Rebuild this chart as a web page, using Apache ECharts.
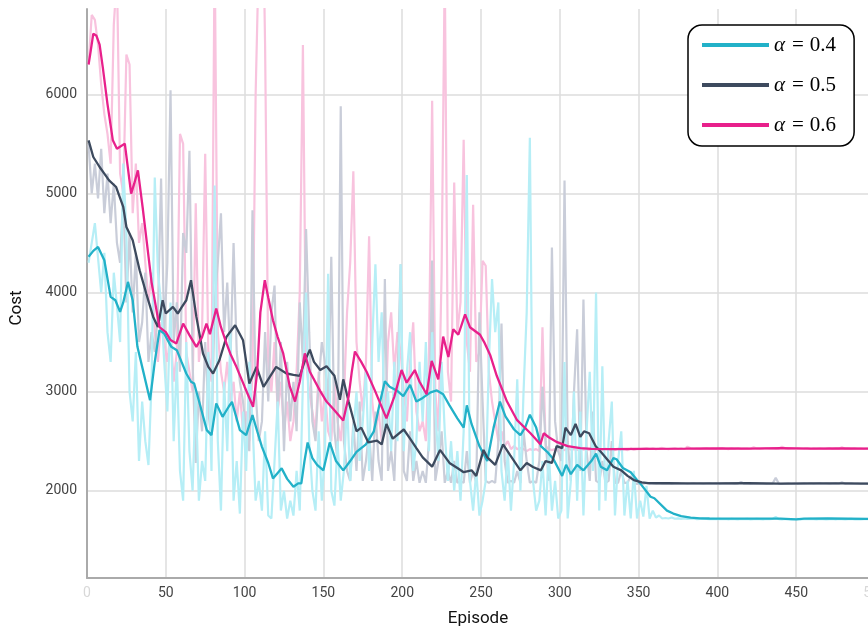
<!DOCTYPE html>
<html><head><meta charset="utf-8">
<script src="https://cdn.jsdelivr.net/npm/echarts@6/dist/echarts.min.js"></script>
<style>html,body{margin:0;padding:0;background:#fff}#c{width:868px;height:628px}</style>
</head><body><div id="c"></div>
<script>
// ---------- data ----------
const seriesNames = ['α = 0.4', 'α = 0.5', 'α = 0.6'];
const xTickValues = [0, 50, 100, 150, 200, 250, 300, 350, 400, 450, 500];
const yTickValues = [2000, 3000, 4000, 5000, 6000];
const rawStep = 2; // raw curves sampled at episodes 1,3,5,...,499

const rawA04 = [
4300,4500,4700,4350,4000,4400,3600,3300,4200,3870,3500,5300,4600,3000,2700,3400,2300,2900,2500,2260,3100,5160,4200,3900,3300,
2800,3900,2500,3300,2200,1900,3500,2400,2000,3000,1900,2300,2100,3400,2200,5080,2500,1800,3100,2400,3600,1900,2300,1770,2800,
2200,3300,2700,1900,2100,1800,2600,1750,1720,2300,2900,1800,2000,1720,1900,1750,2200,1800,3100,4000,2500,2000,1800,2600,1900,
2400,4190,2000,1850,2500,1900,2200,2900,2100,2600,3000,2300,2700,3200,2200,3500,4285,3300,3800,2600,3000,2400,3300,2500,4285,
2400,3200,3600,2200,2500,3300,2700,3500,2400,3600,2800,2300,3300,2600,2100,2500,2000,2400,1900,2600,5185,2100,1800,2200,1750,
1900,2100,3300,4136,3600,3900,2200,1900,2400,1800,2300,3124,2000,3000,3800,5560,2100,1800,1900,2300,1750,2400,1800,2100,1720,
1800,3300,1720,2100,3000,1900,2800,1750,2600,3200,2200,4000,1800,3255,1900,2500,2900,1750,2300,2600,1750,2100,1720,2200,1720,
1900,1740,2050,1720,1800,1730,1750,1720,1725,1720,1730,1718,1722,1716,1720,1715,1718,1720,1714,1716,1718,1715,1713,1716,1714,
1716,1713,1715,1712,1716,1714,1711,1715,1713,1716,1712,1714,1716,1713,1711,1715,1713,1716,1735,1714,1712,1715,1713,1711,1714,
1716,1712,1715,1713,1716,1714,1711,1715,1713,1710,1714,1716,1712,1715,1713,1711,1714,1716,1712,1714,1711,1713,1715,1712,1710];

const rawA05 = [
5500,5000,5300,4950,5450,4800,5200,4700,5100,4500,4300,5000,3900,4600,3800,4400,3500,3700,4200,3300,3600,3400,3800,5150,3600,
4300,6040,3500,3900,3200,4600,4400,5430,3300,2280,3000,2600,3500,2800,2500,3900,4300,4800,3600,4100,3300,4500,3400,3100,2900,
2600,2400,4830,3000,2500,2700,3600,2900,3800,4070,2800,3500,2400,3300,2700,3100,2600,3900,3300,4640,3600,2700,2500,3100,3500,
3300,2900,4360,2600,2300,5880,2500,2200,2100,2700,2200,2900,2100,2300,2600,2100,2800,2300,2100,4136,2200,2400,2100,3100,4285,
2200,2100,2600,2100,2300,2080,2200,2080,2500,4323,2100,2300,2600,2080,2200,2080,2300,2080,2100,2080,2400,2080,2200,2080,3800,
2900,2100,2080,2100,2080,2500,3686,2300,2080,2100,2080,2200,2080,2600,2300,2080,2100,2080,2300,3050,2500,2100,4454,2700,2400,
2300,5130,2500,2100,3000,3630,2200,3930,2400,2100,2800,2100,2080,2300,2080,2100,2500,2080,2080,2200,2080,2080,2150,2080,2070,
2075,2072,2078,2070,2074,2072,2076,2071,2073,2075,2070,2072,2074,2071,2073,2070,2072,2075,2071,2073,2070,2072,2074,2071,2073,
2070,2072,2074,2071,2073,2070,2072,2090,2071,2073,2070,2072,2074,2071,2073,2070,2072,2074,2130,2073,2070,2072,2074,2071,2073,
2070,2072,2074,2071,2073,2070,2072,2074,2071,2073,2070,2072,2074,2071,2085,2070,2072,2074,2071,2073,2070,2072,2074,2071,2073];

const rawA06 = [
6300,6800,6750,6500,6100,5800,5600,5300,6700,7200,5200,5000,6400,6300,4800,5300,4500,4700,4300,3900,4200,3600,3300,3700,3500,
3300,3600,3100,3400,5600,5500,3400,3200,3000,4900,3300,3600,5400,3400,3100,7500,3600,3200,3000,3300,2900,3100,2700,3000,2600,
2800,2500,3200,6000,7400,8500,6500,3300,3000,3500,2800,3100,2600,2900,2500,2700,3200,4000,6496,3300,3000,2800,2600,3200,2700,
3000,2600,2500,3100,2700,2500,2900,3800,4300,5222,3500,3100,2800,3300,4567,2900,2600,2800,2500,2600,3500,3800,3200,3600,3400,
3000,2700,3300,3700,2800,2600,2700,2500,3400,5934,3000,2600,4200,7300,3200,2900,5110,3600,3900,5540,3500,3200,4885,3300,3400,
4320,4270,3200,2900,2700,2500,2600,2450,2500,2420,2450,2420,2430,2420,2400,2420,2410,2420,2400,3650,2450,2420,2410,2420,2400,
2420,2410,2430,2415,2420,2410,2425,2415,2420,2410,2425,2415,2420,2410,2425,2415,2420,2410,2425,2415,2420,2410,2425,2415,2420,
2420,2425,2430,2422,2428,2420,2425,2432,2424,2420,2426,2430,2423,2427,2421,2445,2428,2424,2426,2422,2428,2430,2424,2426,2421,
2426,2430,2424,2420,2427,2425,2431,2423,2426,2428,2424,2440,2427,2423,2426,2429,2424,2427,2422,2426,2445,2428,2423,2426,2424,
2428,2424,2426,2430,2423,2427,2425,2429,2424,2426,2430,2423,2427,2425,2440,2424,2426,2422,2428,2424,2426,2423,2427,2425,2424];

const smoothA04Ep = [1,4,7,11,15,18,21,23,26,29,32,35.5,40,43,46,49,53.5,57,60,63,66,68,72,76,79,82,86,90,92,97,101,105,108,111,115,118,121,123.5,127,131,134,136,138,140,143,146,150,154,158,162.6,167,171,177,182,186,189,192,196.5,200.7,205,209,213,218,222,226,230,235,239,241,244,249,254,258,262,265.5,271,275,278,281,285,288,292,296,301.5,304,307,311,315,320,323,326,330,334,336,340,345,349,351,357.6,360,368,372,377,383,389,395,420,440,450,455,470,500];
const smoothA04 = [4360,4420,4460,4325,3956,3922,3805,3900,4107,3922,3452,3217,2914,3300,3620,3585,3452,3418,3300,3183,3100,3082,2850,2612,2561,2881,2746,2850,2897,2612,2561,2763,2600,2443,2280,2125,2180,2226,2120,2040,2075,2075,2300,2487,2330,2262,2206,2487,2300,2206,2300,2393,2468,2600,2900,3105,3050,3012,2955,3068,2900,2937,2993,3012,2974,2862,2731,2637,2862,2674,2450,2300,2637,2900,2750,2618,2562,2637,2768,2637,2450,2393,2318,2150,2262,2168,2262,2206,2300,2375,2243,2206,2330,2318,2230,2187,2108,2075,1940,1925,1800,1770,1745,1730,1722,1720,1718,1718,1712,1718,1720,1715];

const smoothA05Ep = [1,4,8,11,14,18.5,23,25,29,33.4,37.6,42,45,48,50,54.5,57.6,60,63,66,69.4,73.6,77,80,84,88.5,94,99,103,107.6,112,116,120,126.6,131,135,138,141.4,144,148,152,157,160.5,162.6,166,171,174,178.5,184,187,190,194,201,205,209,213,219,224,230,235,239,244,247,251.6,254,259,264,268.6,275,279,283,288,291,295,298,301.5,303.6,307,310,313,315.4,318.6,322.8,326,330,334,339,343,347,352,356,362,368,380,400,420,440,460,480,500];
const smoothA05 = [5535,5367,5266,5200,5132,5064,4863,4661,4527,4225,3990,3754,3653,3922,3788,3855,3788,3850,3922,4124,3754,3385,3250,3183,3317,3552,3670,3519,3082,3250,3048,3150,3250,3183,3170,3160,3300,3424,3300,3218,3255,3160,2918,3124,2900,2600,2637,2487,2506,2468,2674,2525,2618,2525,2430,2337,2243,2412,2281,2230,2187,2206,2150,2412,2337,2262,2468,2356,2206,2281,2240,2206,2300,2281,2450,2430,2637,2562,2674,2543,2600,2580,2450,2393,2318,2242,2206,2150,2108,2085,2078,2076,2078,2075,2074,2076,2073,2075,2074,2072];

const smoothA06Ep = [1,2,4,6,8,10,13,16.4,19,20.7,24,26,28,30,32.3,35.3,38,41,46,50,53,56.7,61,65,69.4,73,75.8,78,82,85,88.5,91,94.8,100,105.4,108,110,112.8,115,118,121,124.5,128.7,132,135,138.2,141.4,147.8,152,156.3,162.6,166,168,170,174,177.4,182.7,190,195,199.6,202.8,208,211,215.5,218.7,222.9,226,229.3,232.4,235.6,239.9,243,249.4,252,255.8,260,266.5,272.9,281.4,287.7,289.8,293,298.3,305,313,320,334,350,380,400,420,440,460,480,500];
const smoothA06 = [6300,6400,6611,6590,6500,6274,5900,5535,5450,5468,5502,5250,4998,5100,5233,4860,4500,4100,3650,3600,3520,3486,3687,3570,3451,3550,3687,3580,3838,3650,3486,3380,3250,3050,2847,3200,3800,4124,3950,3720,3550,3385,3050,2900,3100,3386,3200,3010,2900,2824,2710,2950,3200,3405,3300,3200,3010,2730,2950,3218,3090,3218,3100,2974,3310,3124,3555,3350,3630,3574,3780,3650,3574,3500,3370,3160,2900,2712,2580,2470,2580,2540,2490,2450,2430,2422,2420,2422,2425,2428,2425,2430,2426,2428,2425];

const rawColors = ['#b6eef6', '#c9cdd9', '#f8c3de'];
const lineColors = ['#22b1c8', '#3d4a5e', '#e8208b'];

// ---------- build ----------
function rawPairs(vals) { return vals.map((v, i) => [1 + i * rawStep, v]); }
function zip(xs, ys) { return xs.map((x, i) => [x, ys[i]]); }

const raws = [rawA04, rawA05, rawA06];
const smEps = [smoothA04Ep, smoothA05Ep, smoothA06Ep];
const smVals = [smoothA04, smoothA05, smoothA06];

const series = [];
[2, 1, 0].forEach(k => {
  series.push({
    name: 'raw' + k, type: 'line', data: rawPairs(raws[k]), symbol: 'none', silent: true,
    lineStyle: { color: rawColors[k], width: 2.2 }, itemStyle: { color: rawColors[k] }, z: 1, clip: true
  });
});
[0, 1, 2].forEach(k => {
  series.push({
    name: seriesNames[k], type: 'line', data: zip(smEps[k], smVals[k]), symbol: 'none',
    lineStyle: { color: lineColors[k], width: 2.3 }, itemStyle: { color: lineColors[k] }, z: 3 + k, clip: true
  });
});

const chart = echarts.init(document.getElementById('c'), null, { renderer: 'canvas' });
chart.setOption({
  animation: false,
  backgroundColor: '#fff',
  grid: { left: 87, right: -7, top: 9, bottom: 50, containLabel: false, outerBoundsMode: 'none' },
  xAxis: {
    type: 'value', min: xTickValues[0], max: xTickValues[xTickValues.length - 1], interval: 50,
    axisLine: { show: true, onZero: false, lineStyle: { color: '#aaa', width: 2 } },
    axisTick: { show: false },
    axisLabel: { fontFamily: 'Roboto', fontSize: 14, margin: 8,
      color: (v) => (Number(v) === 0 || Number(v) === 500) ? '#d8d8d8' : '#444',
      formatter: (v) => xTickValues.includes(v) ? String(v) : '' },
    splitLine: { show: true, lineStyle: { color: '#dcdcdc', width: 1.5 } }
  },
  yAxis: {
    type: 'value', min: 1120, max: 6860, splitNumber: 5,
    axisLine: { show: true, lineStyle: { color: '#aaa', width: 2 } },
    axisTick: { show: false },
    axisLabel: { fontFamily: 'Roboto', fontSize: 14, margin: 10, color: '#444',
      formatter: (v) => yTickValues.includes(v) ? String(v) : '' },
    splitLine: { show: true, showMinLine: false, showMaxLine: false, lineStyle: { color: '#dcdcdc', width: 1.5 } }
  },
  legend: {
    data: seriesNames, orient: 'vertical', left: 688, top: 25,
    padding: [8, 18, 9, 14], itemGap: 16, itemWidth: 67, itemHeight: 4, icon: 'rect', itemTextGap: 6,
    borderColor: '#000', borderWidth: 1.5, borderRadius: 14, backgroundColor: '#fff',
    formatter: (name) => '{g|α}{e|=}{n|' + name.split('= ')[1] + '}',
    textStyle: {
      color: '#000', fontSize: 21, lineHeight: 24,
      rich: {
        g: { fontFamily: 'Liberation Serif', fontStyle: 'italic', fontSize: 21, lineHeight: 24, color: '#000' },
        e: { fontFamily: 'Liberation Serif', fontSize: 21, lineHeight: 24, padding: [0, 6, 0, 7], color: '#000' },
        n: { fontFamily: 'Liberation Serif', fontSize: 21, lineHeight: 24, color: '#000' }
      }
    }
  },
  graphic: [
    { type: 'text', x: 17, y: 308, rotation: Math.PI / 2,
      style: { text: 'Cost', fontFamily: 'Roboto', fontSize: 17, fill: '#111', textAlign: 'center', textVerticalAlign: 'middle' } },
    { type: 'text', x: 478, y: 619,
      style: { text: 'Episode', fontFamily: 'Roboto', fontSize: 17, fill: '#111', textAlign: 'center', textVerticalAlign: 'middle' } }
  ],
  series: series
});
</script>
</body></html>
